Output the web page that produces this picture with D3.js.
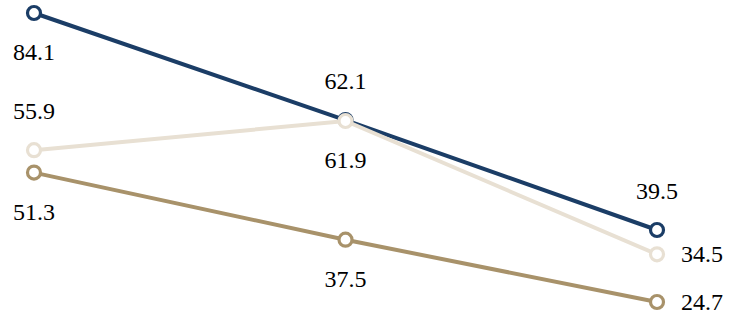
<!DOCTYPE html>
<html>
<head>
<meta charset="utf-8">
<script src="https://cdn.jsdelivr.net/npm/d3@7"></script>
<style>
  body { margin: 0; background: #fff; }
  svg { display: block; }
</style>
</head>
<body>
<div id="chart"></div>
<script>
const width = 729, height = 320;

// data
const categories = ["A", "B", "C"];
const navyValues = [84.1, 62.1, 39.5];
const beigeValues = [55.9, 61.9, 34.5];
const tanValues = [51.3, 37.5, 24.7];

// label placement per point: "above", "below", "right"
const navyPos = ["below", "above", "above"];
const beigePos = ["above", "below", "right"];
const tanPos = ["below", "below", "right"];

const series = [
	{name: "tan", values: tanValues, pos: tanPos, color: "#a8926a"},
	{name: "navy", values: navyValues, pos: navyPos, color: "#1b3d66"},
	{name: "beige", values: beigeValues, pos: beigePos, color: "#e8e0d3"}
];

let svg = d3.select("#chart")
	.append("svg")
	.attr("width", width)
	.attr("height", height);

let x = d3.scalePoint().domain(categories).range([34, 657]);
let y = d3.scaleLinear().domain([24.7, 84.1]).range([302, 13]);

let line = d3.line()
	.x(function(d, i) {return x(categories[i])})
	.y(function(d) {return y(d)});

series.forEach(function(s) {
	let g = svg.append("g");

	g.append("path")
		.attr("d", line(s.values))
		.attr("fill", "none")
		.attr("stroke", s.color)
		.attr("stroke-width", 4);

	g.selectAll("circle").data(s.values).enter()
		.append("circle")
		.attr("cx", function(d, i) {return x(categories[i])})
		.attr("cy", function(d) {return y(d)})
		.attr("r", 6.5)
		.attr("fill", "#fff")
		.attr("stroke", s.color)
		.attr("stroke-width", 3.2);
});

// value labels on top
let labels = svg.append("g")
	.attr("font-family", "Liberation Serif")
	.attr("font-size", 24)
	.attr("fill", "#000");

series.forEach(function(s) {
	labels.append("g").selectAll("text").data(s.values).enter()
		.append("text")
		.attr("x", function(d, i) {
			let p = s.pos[i];
			return p == "right" ? x(categories[i]) + 24 : x(categories[i]);
		})
		.attr("y", function(d, i) {
			let p = s.pos[i];
			if (p == "above") return y(d) - 31;
			if (p == "below") return y(d) + 47;
			return y(d) + 8;
		})
		.attr("text-anchor", function(d, i) {return s.pos[i] == "right" ? "start" : "middle"})
		.text(function(d) {return d.toFixed(1)});
});
</script>
</body>
</html>
